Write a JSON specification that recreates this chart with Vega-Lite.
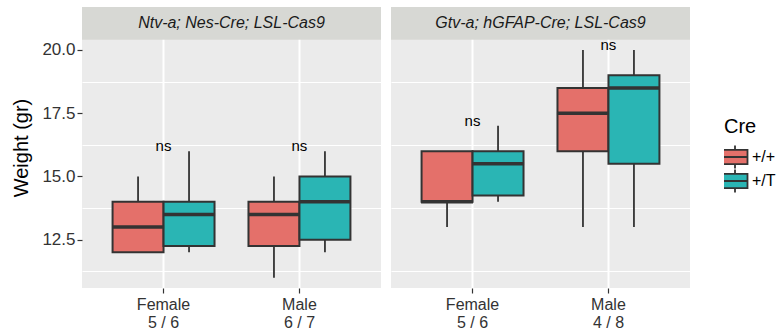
{
  "$schema": "https://vega.github.io/schema/vega-lite/v6.json",
  "padding": {"left": 11, "top": 7, "right": 5, "bottom": 5},
  "data": {"values": [
    {"panel": "Ntv-a; Nes-Cre; LSL-Cas9", "sex": "Female\n5 / 6", "cre": "+/+", "lower": 12, "q1": 12, "median": 13, "q3": 14, "upper": 15},
    {"panel": "Ntv-a; Nes-Cre; LSL-Cas9", "sex": "Female\n5 / 6", "cre": "+/T", "lower": 12, "q1": 12.25, "median": 13.5, "q3": 14, "upper": 16},
    {"panel": "Ntv-a; Nes-Cre; LSL-Cas9", "sex": "Male\n6 / 7", "cre": "+/+", "lower": 11, "q1": 12.25, "median": 13.5, "q3": 14, "upper": 15},
    {"panel": "Ntv-a; Nes-Cre; LSL-Cas9", "sex": "Male\n6 / 7", "cre": "+/T", "lower": 12, "q1": 12.5, "median": 14, "q3": 15, "upper": 16},
    {"panel": "Gtv-a; hGFAP-Cre; LSL-Cas9", "sex": "Female\n5 / 6", "cre": "+/+", "lower": 13, "q1": 14, "median": 14, "q3": 16, "upper": 16},
    {"panel": "Gtv-a; hGFAP-Cre; LSL-Cas9", "sex": "Female\n5 / 6", "cre": "+/T", "lower": 14, "q1": 14.25, "median": 15.5, "q3": 16, "upper": 17},
    {"panel": "Gtv-a; hGFAP-Cre; LSL-Cas9", "sex": "Male\n4 / 8", "cre": "+/+", "lower": 13, "q1": 16, "median": 17.5, "q3": 18.5, "upper": 20},
    {"panel": "Gtv-a; hGFAP-Cre; LSL-Cas9", "sex": "Male\n4 / 8", "cre": "+/T", "lower": 13, "q1": 15.5, "median": 18.5, "q3": 19, "upper": 20}
  ]},
  "spacing": 10,
  "resolve": {"scale": {"x": "independent", "xOffset": "independent", "y": "shared", "fill": "shared"}, "axis": {"y": "independent"}},
  "hconcat": [
    {
      "width": 299,
      "height": 281,
      "transform": [{"filter": "datum.panel == 'Ntv-a; Nes-Cre; LSL-Cas9'"}],
      "resolve": {"axis": {"y": "independent"}},
      "layer": [
        {
          "mark": {"type": "rect", "color": "#D7D8D4"},
          "encoding": {
            "y": {"datum": 20.42, "type": "quantitative",
              "scale": {"domain": [10.59, 21.7], "nice": false, "zero": false},
              "axis": {"orient": "left", "title": null, "labels": false, "ticks": false, "domain": false,
                "values": [11.25, 13.75, 16.25, 18.75], "gridWidth": 1.1}},
            "y2": {"datum": 21.7}
          }
        },
        {
          "transform": [{"aggregate": [], "groupby": ["panel"]}],
          "mark": {"type": "text", "fontStyle": "italic", "fontSize": 16, "color": "#1A1A1A", "baseline": "middle"},
          "encoding": {
            "y": {"datum": 21.07, "type": "quantitative", "axis": null},
            "text": {"field": "panel"}
          }
        },
        {
          "mark": {"type": "rule", "color": "#333333", "strokeWidth": 1.8},
          "encoding": {
            "x": {"field": "sex", "type": "nominal", "scale": {"type": "band", "paddingInner": 0, "paddingOuter": 0.1}, "axis": {"title": null, "labelExpr": "split(datum.label, '\\n')"}},
            "xOffset": {"field": "cre", "type": "nominal", "scale": {"paddingInner": 0, "paddingOuter": 0.333}},
            "y": {"field": "lower", "type": "quantitative",
              "axis": {"orient": "left", "title": "Weight (gr)", "values": [12.5, 15, 17.5, 20], "format": ".1f", "gridWidth": 2}},
            "y2": {"field": "upper"}
          }
        },
        {
          "mark": {"type": "bar", "stroke": "#333333", "strokeWidth": 2},
          "encoding": {
            "x": {"field": "sex", "type": "nominal"},
            "xOffset": {"field": "cre", "type": "nominal"},
            "y": {"field": "q1", "type": "quantitative", "axis": null},
            "y2": {"field": "q3"},
            "fill": {"field": "cre", "type": "nominal",
              "scale": {"domain": ["+/+", "+/T"], "range": ["#E4706A", "#2AB5B4"]},
              "legend": {"title": "Cre", "orient": "none", "legendX": 642, "legendY": 110}}
          }
        },
        {
          "mark": {"type": "tick", "color": "#333333", "thickness": 3.5, "size": 52, "opacity": 1},
          "encoding": {
            "x": {"field": "sex", "type": "nominal"},
            "xOffset": {"field": "cre", "type": "nominal"},
            "y": {"field": "median", "type": "quantitative", "axis": null}
          }
        },
        {
          "transform": [{"aggregate": [{"op": "max", "field": "upper", "as": "ymax"}], "groupby": ["panel", "sex"]}],
          "mark": {"type": "text", "text": "ns", "fontSize": 15, "color": "#000000", "baseline": "alphabetic"},
          "encoding": {
            "x": {"field": "sex", "type": "nominal"},
            "y": {"field": "ymax", "type": "quantitative", "axis": null}
          }
        }
      ]
    },
    {
      "width": 299,
      "height": 281,
      "transform": [{"filter": "datum.panel == 'Gtv-a; hGFAP-Cre; LSL-Cas9'"}],
      "resolve": {"axis": {"y": "independent"}},
      "layer": [
        {
          "mark": {"type": "rect", "color": "#D7D8D4"},
          "encoding": {
            "y": {"datum": 20.42, "type": "quantitative",
              "scale": {"domain": [10.59, 21.7], "nice": false, "zero": false},
              "axis": {"orient": "left", "title": null, "labels": false, "ticks": false, "domain": false,
                "values": [11.25, 13.75, 16.25, 18.75], "gridWidth": 1.1}},
            "y2": {"datum": 21.7}
          }
        },
        {
          "transform": [{"aggregate": [], "groupby": ["panel"]}],
          "mark": {"type": "text", "fontStyle": "italic", "fontSize": 16, "color": "#1A1A1A", "baseline": "middle"},
          "encoding": {
            "y": {"datum": 21.07, "type": "quantitative", "axis": null},
            "text": {"field": "panel"}
          }
        },
        {
          "mark": {"type": "rule", "color": "#333333", "strokeWidth": 1.8},
          "encoding": {
            "x": {"field": "sex", "type": "nominal", "scale": {"type": "band", "paddingInner": 0, "paddingOuter": 0.1}, "axis": {"title": null, "labelExpr": "split(datum.label, '\\n')"}},
            "xOffset": {"field": "cre", "type": "nominal", "scale": {"paddingInner": 0, "paddingOuter": 0.333}},
            "y": {"field": "lower", "type": "quantitative",
              "axis": {"orient": "left", "title": null, "labels": false, "ticks": false, "domain": false, "values": [12.5, 15, 17.5, 20], "gridWidth": 2}},
            "y2": {"field": "upper"}
          }
        },
        {
          "mark": {"type": "bar", "stroke": "#333333", "strokeWidth": 2},
          "encoding": {
            "x": {"field": "sex", "type": "nominal"},
            "xOffset": {"field": "cre", "type": "nominal"},
            "y": {"field": "q1", "type": "quantitative", "axis": null},
            "y2": {"field": "q3"},
            "fill": {"field": "cre", "type": "nominal"}
          }
        },
        {
          "mark": {"type": "tick", "color": "#333333", "thickness": 3.5, "size": 52, "opacity": 1},
          "encoding": {
            "x": {"field": "sex", "type": "nominal"},
            "xOffset": {"field": "cre", "type": "nominal"},
            "y": {"field": "median", "type": "quantitative", "axis": null}
          }
        },
        {
          "transform": [{"aggregate": [{"op": "max", "field": "upper", "as": "ymax"}], "groupby": ["panel", "sex"]}],
          "mark": {"type": "text", "text": "ns", "fontSize": 15, "color": "#000000", "baseline": "alphabetic"},
          "encoding": {
            "x": {"field": "sex", "type": "nominal"},
            "y": {"field": "ymax", "type": "quantitative", "axis": null}
          }
        }
      ]
    }
  ],
  "config": {
    "font": "Liberation Sans",
    "view": {"stroke": null, "fill": "#EBEBEB"},
    "axis": {"labelFontSize": 16, "labelColor": "#333333", "titleFontSize": 20, "titleFontWeight": "normal", "titleColor": "#000000", "gridColor": "#FFFFFF", "gridOpacity": 1, "domain": false, "tickColor": "#333333", "tickSize": 5, "tickWidth": 1.2, "labelPadding": 3},
    "axisX": {"grid": true, "gridWidth": 2, "labelLineHeight": 18, "labelAngle": 0, "bandPosition": 0.5},
    "axisY": {"grid": true, "titlePadding": 10, "labelFontSize": 17, "labelPadding": 2},
    "legend": {"titleFontSize": 20, "titleFontWeight": "normal", "titleColor": "#000000", "labelFontSize": 16, "labelColor": "#000000",
      "symbolType": "M-1.25,-0.72H1.25V0.72H-1.25Z M-1.25,0H1.25 M0,-0.72V-1.15 M0,0.72V1.15",
      "symbolSize": 400, "symbolStrokeColor": "#333333", "symbolStrokeWidth": 1.8, "symbolOpacity": 1, "rowPadding": 0, "clipHeight": 24, "titlePadding": 8, "labelOffset": 6}
  }
}
